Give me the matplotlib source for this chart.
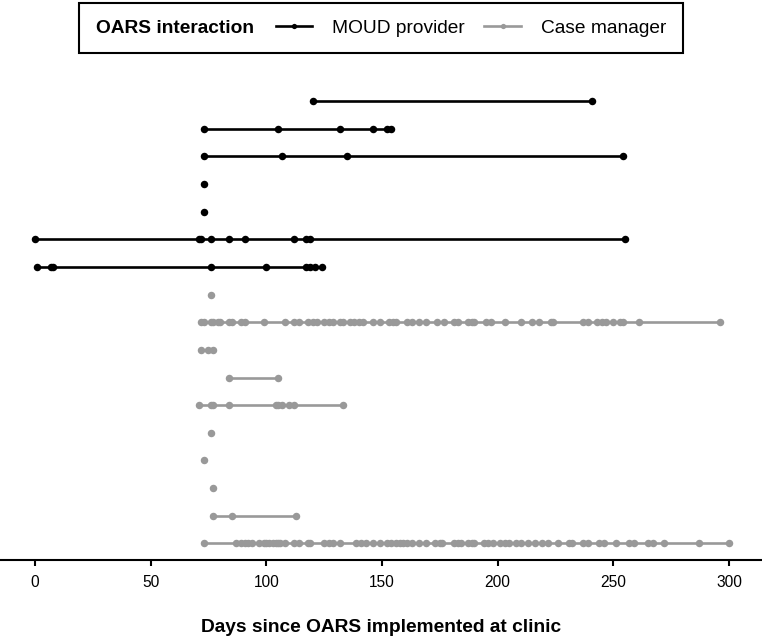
import matplotlib
matplotlib.use("Agg")
import matplotlib.pyplot as plt
from matplotlib.lines import Line2D
from matplotlib.offsetbox import HPacker

plt.rcParams['font.family'] = ['Liberation Sans', 'DejaVu Sans']

# ---- data: one list per participant row (top to bottom) ----
row_types = ["MOUD", "MOUD", "MOUD", "MOUD", "MOUD", "MOUD", "MOUD",
             "CM", "CM", "CM", "CM", "CM", "CM", "CM", "CM", "CM", "CM"]

row01 = [120, 241]
row02 = [73, 105, 132, 146, 152, 154]
row03 = [73, 107, 135, 254]
row04 = [73]
row05 = [73]
row06 = [0, 71, 72, 76, 84, 91, 112, 117, 119, 255]
row07 = [1, 7, 8, 76, 100, 117, 119, 121, 124]
row08 = [76]
row09 = [72, 73, 76, 77, 79, 80, 84, 85, 89, 91, 99, 108, 112, 114, 118, 120,
         122, 125, 127, 129, 132, 133, 136, 138, 140, 142, 146, 149, 153, 155,
         156, 161, 163, 166, 169, 174, 177, 181, 183, 187, 189, 190, 195, 197,
         203, 210, 215, 218, 223, 224, 237, 239, 243, 245, 247, 250, 253, 254,
         261, 296]
row10 = [72, 75, 77]
row11 = [84, 105]
row12 = [71, 76, 77, 84, 104, 105, 107, 110, 112, 133]
row13 = [76]
row14 = [73]
row15 = [77]
row16 = [77, 85, 113]
row17 = [73, 87, 89, 91, 92, 94, 97, 99, 100, 101, 103, 104, 105, 106, 108,
         112, 114, 118, 119, 125, 127, 129, 132, 139, 141, 143, 146, 149, 152,
         154, 156, 158, 159, 161, 163, 166, 169, 173, 175, 176, 181, 183, 184,
         187, 189, 190, 194, 196, 198, 201, 203, 205, 208, 210, 213, 216, 219,
         222, 226, 231, 232, 237, 239, 244, 246, 251, 257, 259, 265, 267, 272,
         287, 300]

rows = [row01, row02, row03, row04, row05, row06, row07, row08, row09, row10,
        row11, row12, row13, row14, row15, row16, row17]

x_ticks = [0, 50, 100, 150, 200, 250, 300]
x_label = "Days since OARS implemented at clinic"
legend_title = "OARS interaction"
legend_labels = {"MOUD": "MOUD provider", "CM": "Case manager"}
colors = {"MOUD": "#000000", "CM": "#999999"}

# ---- figure ----
W, H = 762, 638
fig = plt.figure(figsize=(W / 100, H / 100), dpi=100)
ax = fig.add_axes([0, (H - 560) / H, 1, (560 - 84.4) / H])

for i, (vals, t) in enumerate(zip(rows, row_types), start=1):
    ax.plot(vals, [i] * len(vals), color=colors[t], lw=1.9, marker='o',
            markersize=5.4, markeredgewidth=0, solid_capstyle='butt')

ax.set_xlim(-15.1, 314.3)
ax.set_ylim(len(rows) + 0.6, 0.4)
ax.set_yticks([])
for s in ['left', 'right', 'top']:
    ax.spines[s].set_visible(False)
ax.spines['bottom'].set_linewidth(1.5)
ax.set_xticks(x_ticks)
ax.set_xticklabels([str(v) for v in x_ticks])
ax.tick_params(axis='x', length=4.5, width=1.5, pad=6, labelsize=11.2,
               labelcolor='black')
ax.set_xlabel(x_label, fontsize=13.8, fontweight='bold', labelpad=21)

handles = [Line2D([], [], color=colors[k], lw=1.9, marker='o', markersize=3.8,
                  markeredgewidth=0) for k in ["MOUD", "CM"]]
leg = fig.legend(handles, [legend_labels["MOUD"], legend_labels["CM"]],
                 ncol=2, loc='upper center', bbox_to_anchor=(0.5, 1 - 3 / H),
                 frameon=True, fancybox=False, edgecolor='black',
                 framealpha=1, fontsize=13.8, title=legend_title,
                 title_fontproperties={'weight': 'bold', 'size': 13.8},
                 handlelength=1.9, handletextpad=1.05, columnspacing=1.0,
                 borderpad=0.75, borderaxespad=0)
leg.get_frame().set_linewidth(1.5)

# put title inline to the left of the entries
old = leg._legend_box
new = HPacker(pad=old.pad + 1.5, sep=16, align='center',
              children=[leg._legend_title_box, leg._legend_handle_box])
new.set_figure(fig)
new.axes = leg.axes
new.set_offset(leg._findoffset)
leg._legend_box = new

fig.savefig("out.png", dpi=100)
